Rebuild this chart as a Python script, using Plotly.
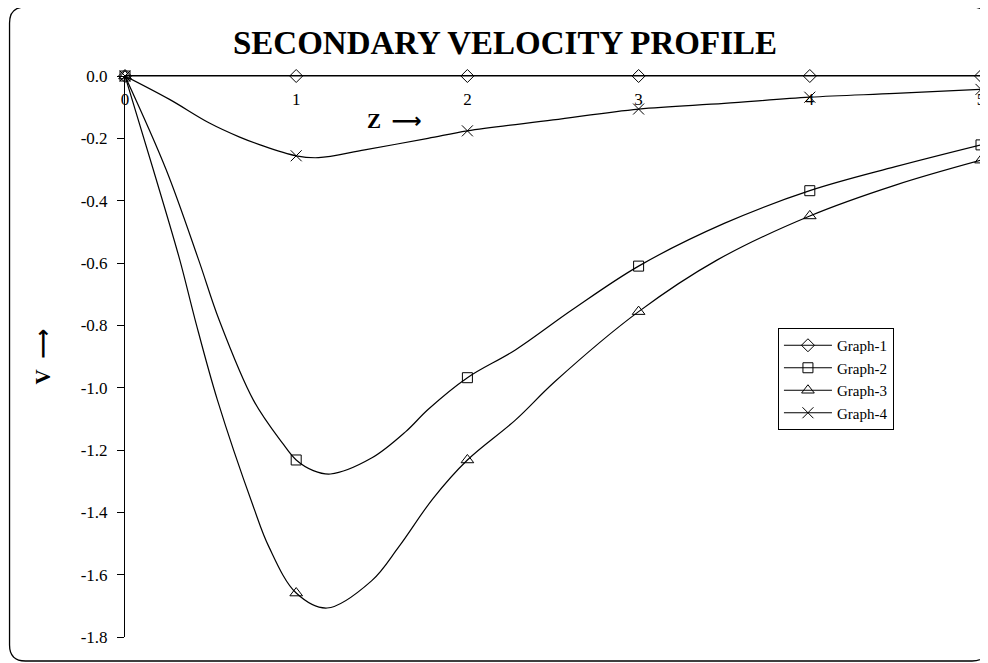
import plotly.graph_objects as go

# The page adds an 8px body margin, so the figure is drawn 8px smaller and all
# target positions (page pixels) are shifted by OFF.
OFF = 8
W, H = 988 - OFF, 663 - OFF
ML, MR, MT, MB = 125 - OFF, 3, 76 - OFF, 26

# ---- data ----
g1_x = [0, 1, 2, 3, 4, 5]
g1_y = [0, 0, 0, 0, 0, 0]

g2_x = [0, 0.24, 0.43, 0.55, 0.75, 0.92, 1.0, 1.1, 1.2, 1.44, 1.64, 1.77, 2.0, 2.28, 2.61, 3.0, 3.5, 4.0, 4.5, 5.0]
g2_y = [0, -0.30, -0.59, -0.783, -1.04, -1.178, -1.232, -1.266, -1.277, -1.226, -1.141, -1.07, -0.968,
        -0.879, -0.751, -0.61, -0.473, -0.368, -0.291, -0.221]

g3_x = [0, 0.165, 0.32, 0.41, 0.54, 0.75, 0.84, 1.0, 1.18, 1.44, 1.6, 1.8, 2.0, 2.28, 2.51, 3.0, 3.46, 4.0, 4.5, 5.0]
g3_y = [0, -0.30, -0.59, -0.783, -1.04, -1.382, -1.51, -1.659, -1.707, -1.62, -1.51, -1.355, -1.232,
        -1.104, -0.981, -0.756, -0.59, -0.449, -0.35, -0.27]

g4_x = [0, 0.26, 0.49, 0.67, 0.785, 1.0, 1.13, 1.4, 1.77, 2.0, 2.5, 3.0, 3.5, 4.0, 4.5, 5.0]
g4_y = [0, -0.075, -0.15, -0.196, -0.22, -0.256, -0.262, -0.237, -0.2, -0.176, -0.141, -0.106,
        -0.088, -0.068, -0.056, -0.043]

series_names = ["Graph-1", "Graph-2", "Graph-3", "Graph-4"]
x_tick_vals = [0, 1, 2, 3, 4, 5]
x_tick_text = ["0", "1", "2", "3", "4", "5"]
y_tick_vals = [0, -0.2, -0.4, -0.6, -0.8, -1.0, -1.2, -1.4, -1.6, -1.8]
y_tick_text = ["0.0", "-0.2", "-0.4", "-0.6", "-0.8", "-1.0", "-1.2", "-1.4", "-1.6", "-1.8"]

SERIF = "Liberation Serif, Times New Roman, serif"
symbols = ["diamond-open", "square-open", "triangle-up-open", "x-thin-open"]
sizes = [10, 10, 11, 11]

fig = go.Figure()
all_series = [(g1_x, g1_y), (g2_x, g2_y), (g3_x, g3_y), (g4_x, g4_y)]
for (xs, ys), name, sym, sz in zip(all_series, series_names, symbols, sizes):
    fig.add_trace(go.Scatter(x=xs, y=ys, mode="lines", line=dict(color="black", width=1.2, shape="spline"),
                             showlegend=False, hoverinfo="skip"))
    mx = [x for x in xs if float(x).is_integer()]
    my = [y for x, y in zip(xs, ys) if float(x).is_integer()]
    fig.add_trace(go.Scatter(x=mx, y=my, mode="markers", cliponaxis=False,
                             marker=dict(symbol=sym, size=sz, color="black", line=dict(color="black", width=1)),
                             showlegend=False))
    fig.add_trace(go.Scatter(x=[None], y=[None], mode="lines+markers", name=name,
                             line=dict(color="black", width=1),
                             marker=dict(symbol=sym, size=sz, color="black", line=dict(color="black", width=1))))

pw = W - ML - MR
ph = H - MT - MB


def px(xp, yp):
    """page pixel -> paper coords"""
    return (xp - OFF - ML) / pw, (H - MB - (yp - OFF)) / ph


def P(a, b):
    u, v = px(a, b)
    return f"{u:.5f},{v:.5f}"


# rounded frame
x0, y0, x1, y1, r = 9, 7, 992, 661, 16
path = (f"M {P(x0, y0 + r)} Q {P(x0, y0)} {P(x0 + r, y0)} L {P(x1 - r, y0)} Q {P(x1, y0)} {P(x1, y0 + r)} "
        f"L {P(x1, y1 - r)} Q {P(x1, y1)} {P(x1 - r, y1)} L {P(x0 + r, y1)} Q {P(x0, y1)} {P(x0, y1 - r)} Z")
fig.add_shape(type="path", path=path, xref="paper", yref="paper", line=dict(color="black", width=1.3),
              layer="below")

ARROW = '<span style="font-family:DejaVu Sans">⟶</span>'
zx, zy = px(366, 107)
vx, vy = px(29, 356)
fig.add_annotation(x=zx, y=zy, xref="paper", yref="paper", xanchor="left", text=f"<b>Z&nbsp;&nbsp;{ARROW}</b>",
                   showarrow=False, font=dict(family=SERIF, size=21, color="black"))
fig.add_annotation(x=vx, y=vy, xref="paper", yref="paper", text=f"<b>V&nbsp;&nbsp;{ARROW}</b>", showarrow=False,
                   textangle=-90, font=dict(family=SERIF, size=21, color="black"))

lx, ly = px(781, 328)
fig.update_layout(
    width=W, height=H,
    margin=dict(l=ML, r=MR, t=MT, b=MB),
    paper_bgcolor="white", plot_bgcolor="white",
    title=dict(text="<b>SECONDARY VELOCITY PROFILE</b>", x=(505 - OFF) / W, xanchor="center",
               y=1 - (42 - OFF) / H, yanchor="middle",
               font=dict(family=SERIF, size=33, color="black")),
    font=dict(family=SERIF, color="black"),
    xaxis=dict(range=[0, 5], side="top", showline=True, linecolor="black", linewidth=1, showgrid=False,
               zeroline=False, tickvals=x_tick_vals, ticktext=x_tick_text, ticks="inside", ticklen=18,
               tickcolor="rgba(0,0,0,0)", ticklabelposition="inside", ticklabeloverflow="allow",
               tickfont=dict(family=SERIF, size=17, color="black")),
    yaxis=dict(range=[-1.8, 0], showline=True, linecolor="black", linewidth=1, showgrid=False, zeroline=False,
               tickvals=y_tick_vals, ticktext=y_tick_text, ticks="outside", ticklen=7, tickcolor="black",
               ticklabelstandoff=6, tickfont=dict(family=SERIF, size=17, color="black")),
    legend=dict(x=lx, y=ly, xanchor="left", yanchor="top", bgcolor="white", bordercolor="black", borderwidth=1,
                font=dict(family=SERIF, size=15, color="black"), itemwidth=48, tracegroupgap=0),
)

fig.write_html("out.html")
